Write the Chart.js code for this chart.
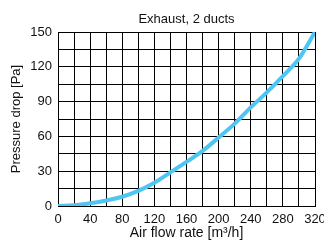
<!DOCTYPE html>
<html>
<head>
<meta charset="utf-8">
<script src="https://cdn.jsdelivr.net/npm/chart.js@4/dist/chart.umd.min.js"></script>
<style>
html,body{margin:0;padding:0;background:#fff;}
#wrap{width:324px;height:240px;}
</style>
</head>
<body>
<div id="wrap"><canvas id="c" width="324" height="240"></canvas></div>
<script>
const flowRates = [0, 20, 40, 60, 80, 100, 120, 140, 160, 180, 200, 220, 240, 260, 280, 300, 320];
const pressureDrop = [0, 0.6, 2.4, 4.8, 8, 13, 20, 29, 38, 47.5, 59, 71, 85, 98, 112, 127, 150];
const xTickLabels = [0, 40, 80, 120, 160, 200, 240, 280, 320];
const yTickLabels = [0, 30, 60, 90, 120, 150];

const points = flowRates.map((x, i) => ({x: x, y: pressureDrop[i]}));
const font = {family: "'Liberation Sans', Arial, sans-serif", size: 13};

new Chart(document.getElementById('c'), {
  type: 'line',
  data: {
    datasets: [{
      data: points,
      borderColor: '#4fc6f2',
      borderWidth: 4,
      pointRadius: 0,
      cubicInterpolationMode: 'monotone',
      fill: false
    }]
  },
  options: {
    responsive: false,
    animation: false,
    devicePixelRatio: 1,
    layout: {padding: {left: 0, right: 9, top: 0, bottom: 0}},
    plugins: {
      legend: {display: false},
      tooltip: {enabled: false},
      title: {
        display: true,
        fullSize: false,
        text: 'Exhaust, 2 ducts',
        color: '#111',
        font: {family: font.family, size: 13, weight: 'normal'},
        padding: {top: 12, bottom: 4.4}
      }
    },
    scales: {
      x: {
        type: 'linear',
        min: 0, max: 320,
        afterFit(s) { s.height = 34; s.paddingLeft = 0; s.paddingRight = 0; },
        ticks: {
          stepSize: 20,
          autoSkip: false,
          maxRotation: 0,
          padding: 6,
          color: '#111',
          font: font,
          callback: (v) => xTickLabels.includes(v) ? String(v) : ''
        },
        grid: {color: '#000', lineWidth: 1, drawTicks: false},
        border: {color: '#000', width: 1},
        title: {
          display: true,
          text: 'Air flow rate [m³/h]',
          color: '#111',
          font: {family: font.family, size: 14, lineHeight: 1},
          padding: {top: 0, bottom: 0}
        }
      },
      y: {
        type: 'linear',
        min: 0, max: 150,
        afterFit(s) { s.width = 58; s.paddingTop = 0; s.paddingBottom = 0; },
        ticks: {
          stepSize: 15,
          autoSkip: false,
          padding: 6,
          color: '#111',
          font: font,
          callback: (v) => yTickLabels.includes(v) ? String(v) : ''
        },
        grid: {color: '#000', lineWidth: 1, drawTicks: false},
        border: {color: '#000', width: 1},
        title: {
          display: true,
          text: 'Pressure drop [Pa]',
          color: '#111',
          font: {family: font.family, size: 13},
          padding: {top: 9, bottom: 0}
        }
      }
    }
  }
});
</script>
</body>
</html>
